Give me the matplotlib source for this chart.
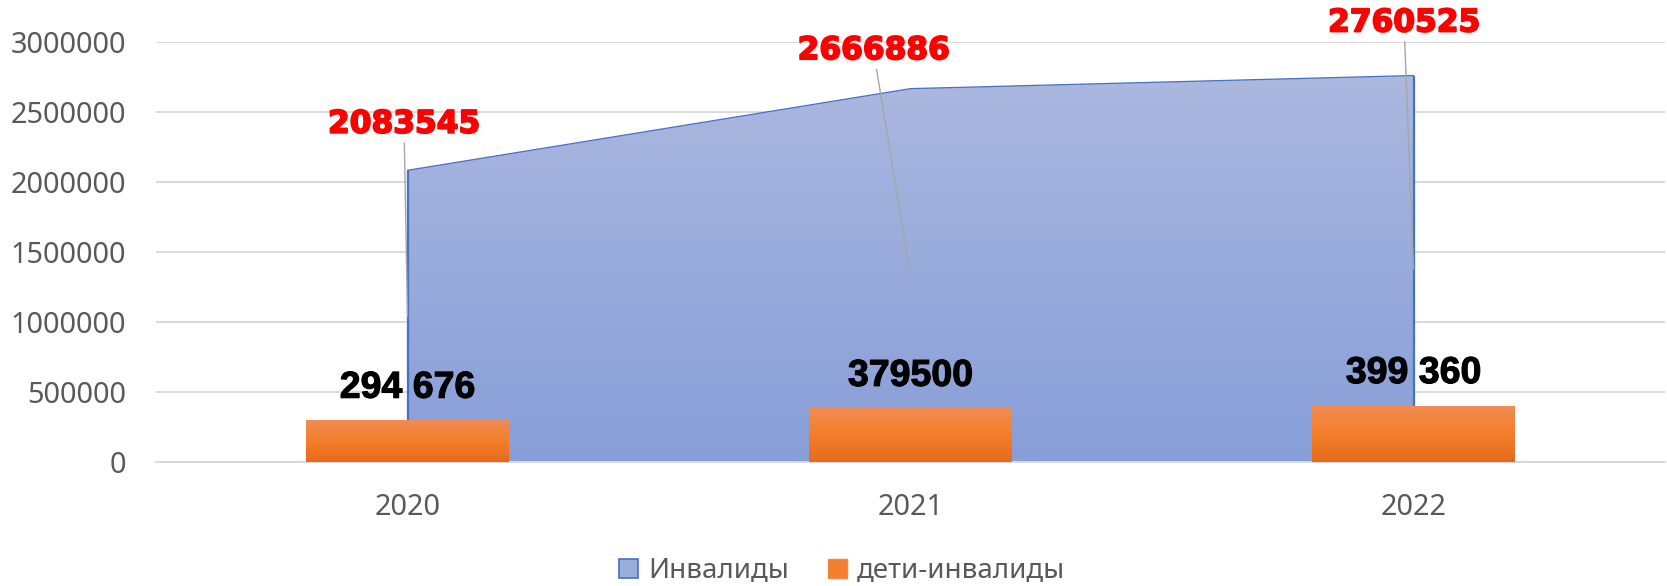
import matplotlib.pyplot as plt
import matplotlib.patheffects as pe
import numpy as np
from matplotlib.patches import Patch
from matplotlib.ticker import FuncFormatter

# данные
years = ['2020', '2021', '2022']
invalidy = [2083545, 2666886, 2760525]
deti = [294676, 379500, 399360]
deti_labels = ['294 676', '379500', '399 360']

# смещения подписей (пиксели) относительно точки
red_dx = [-3.5, -37, -9.5]
red_dy = [46, 38, 52.5]

gray = '#595959'
tick_font = 'Noto Sans'

fig = plt.figure(figsize=(16.67, 5.86), dpi=100)
ax = fig.add_axes([156 / 1667, 1 - 462 / 586, 1509 / 1667, 420 / 586])

x = np.arange(len(years))
ax.set_xlim(-0.5, 2.5)
ax.set_ylim(0, 3000000)

# сетка
ax.set_yticks(np.arange(0, 3000001, 500000))
ax.yaxis.grid(True, color='#d9d9d9', lw=1.4, zorder=0)
ax.set_axisbelow(True)
for s in ['top', 'right', 'left']:
    ax.spines[s].set_visible(False)
ax.spines['bottom'].set_color('#d9d9d9')
ax.spines['bottom'].set_linewidth(1.4)
ax.tick_params(length=0)

# площадь с градиентом
poly = ax.fill_between(x, invalidy, 0, facecolor='none', edgecolor='#4472c4', lw=0.9, zorder=2)
grad = np.linspace(0, 1, 256)[:, None]
top = np.array([171, 184, 223]) / 255
bot = np.array([135, 158, 216]) / 255
img = top + (bot - top) * grad[..., None]
im = ax.imshow(img, extent=[-0.5, 2.5, 0, max(invalidy)], aspect='auto', zorder=1.5, origin='upper')
im.set_clip_path(poly.get_paths()[0], transform=ax.transData)
ax.plot([x[0], x[0]], [0, invalidy[0]], color='#4472c4', lw=0.9, zorder=2)
ax.plot([x[-1], x[-1]], [0, invalidy[-1]], color='#4472c4', lw=0.9, zorder=2)

# столбцы с градиентом
w = 0.403
otop = np.array([240, 140, 82]) / 255
omid = np.array([244, 126, 42]) / 255
obot = np.array([230, 106, 26]) / 255
t = np.linspace(0, 1, 256)[:, None, None]
oimg = np.where(t < 0.5, otop + (omid - otop) * (t / 0.5), omid + (obot - omid) * ((t - 0.5) / 0.5))
for xi, d in zip(x, deti):
    ax.imshow(oimg, extent=[xi - w / 2, xi + w / 2, 0, d], aspect='auto', zorder=3, origin='upper')
ax.set_xlim(-0.5, 2.5)
ax.set_ylim(0, 3000000)

ax.set_xticks(x)
ax.set_xticklabels(years)
ax.yaxis.set_major_formatter(FuncFormatter(lambda v, p: str(int(v))))
for lab in ax.get_xticklabels() + ax.get_yticklabels():
    lab.set_fontfamily(tick_font)
    lab.set_fontsize(20.8)
    lab.set_color(gray)
ax.tick_params(axis='y', pad=21.5)
ax.tick_params(axis='x', pad=22)

# подписи площади с выносками
fig.canvas.draw()
for xi, v, dx, dy in zip(x, invalidy, red_dx, red_dy):
    p0 = ax.transData.transform((xi, v))
    p1 = ax.transData.transform((xi, v / 2))
    ax.annotate(str(v), xy=(xi, v / 2), xytext=(p0[0] - p1[0] + dx, p0[1] - p1[1] + dy),
                textcoords='offset pixels', ha='center', va='center',
                fontsize=22.5, fontweight='bold', family='DejaVu Sans', color='#ff0000',
                annotation_clip=False, zorder=5,
                path_effects=[pe.withStroke(linewidth=1.3, foreground='#ff0000')],
                arrowprops=dict(arrowstyle='-', color='#a6a6a6', lw=1.0, shrinkA=1, shrinkB=0))

# подписи столбцов
for xi, d, s in zip(x, deti, deti_labels):
    ax.annotate(s, xy=(xi, d), xytext=(0, 33), textcoords='offset pixels',
                ha='center', va='center', fontsize=27, fontweight='bold',
                family='Liberation Sans', color='black', zorder=5,
                path_effects=[pe.withStroke(linewidth=0.8, foreground='black')])

handles = [Patch(facecolor='#9aaddb', edgecolor='#4472c4', lw=1.2, label='Инвалиды'),
           Patch(facecolor='#f47f2c', edgecolor='#f0894c', lw=1.0, label='дети-инвалиды')]
leg = fig.legend(handles=handles, loc='center', bbox_to_anchor=(842 / 1667, 1 - 571 / 586),
                 ncol=2, frameon=False, prop={'family': tick_font, 'size': 20},
                 handlelength=0.68, handleheight=0.68, handletextpad=0.35, columnspacing=1.4)
for txt in leg.get_texts():
    txt.set_color(gray)

fig.savefig('out.png', dpi=100)
